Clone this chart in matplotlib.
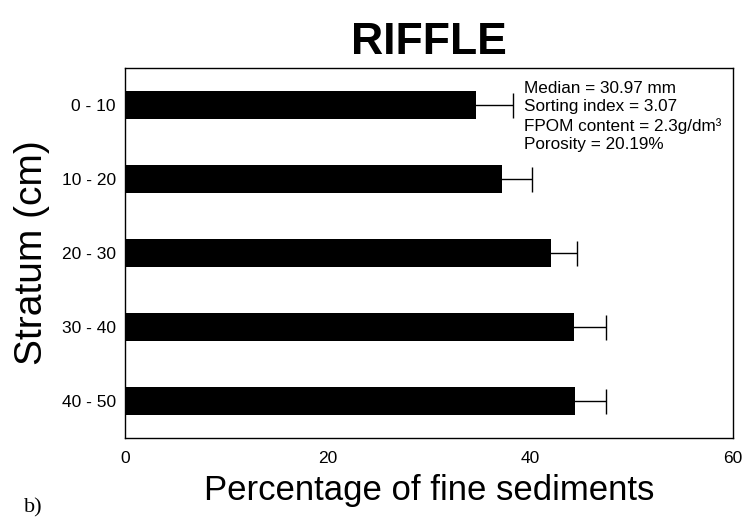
import matplotlib
matplotlib.use("Agg")
import matplotlib.pyplot as plt
import numpy as np

plt.rcParams['font.family'] = ['Liberation Sans', 'DejaVu Sans']

strata = ["0 - 10", "10 - 20", "20 - 30", "30 - 40", "40 - 50"]
percent_fine = [34.7, 37.2, 42.1, 44.3, 44.4]
error = [3.6, 3.0, 2.5, 3.2, 3.1]
x_ticks = [0, 20, 40, 60]
info_lines = ["Median = 30.97 mm", "Sorting index = 3.07",
              "FPOM content = 2.3g/dm³", "Porosity = 20.19%"]

fig = plt.figure(figsize=(7.47, 5.19), dpi=100)
ax = fig.add_axes([0.167, 0.156, 0.814, 0.713])

y = np.arange(len(strata))
ax.barh(y, percent_fine, height=0.38, color='black', xerr=error,
        error_kw=dict(ecolor='black', elinewidth=1.0, capsize=9, capthick=1.0))

ax.set_xlim(0, 60)
ax.set_ylim(len(strata) - 0.5, -0.5)
ax.set_yticks(y)
ax.set_yticklabels(strata, fontsize=12.5)
ax.set_xticks(x_ticks)
ax.set_xticklabels([str(t) for t in x_ticks], fontsize=12.5)
ax.tick_params(axis='x', length=0, pad=9)
ax.tick_params(axis='y', length=0, pad=6.5)
for s in ax.spines.values():
    s.set_linewidth(1.0)

ax.set_ylabel("Stratum (cm)", fontsize=28, labelpad=8)
ax.set_xlabel("Percentage of fine sediments", fontsize=25, labelpad=6)
ax.set_title("RIFFLE", fontsize=32, fontweight='bold', pad=10)

ax.text(0.656, 0.965, "\n".join(info_lines), transform=ax.transAxes,
        fontsize=12.3, va='top', ha='left', linespacing=1.28)

fig.text(0.032, 0.012, "b)", fontsize=16, family='Liberation Serif')

fig.savefig("out.png", dpi=100)
